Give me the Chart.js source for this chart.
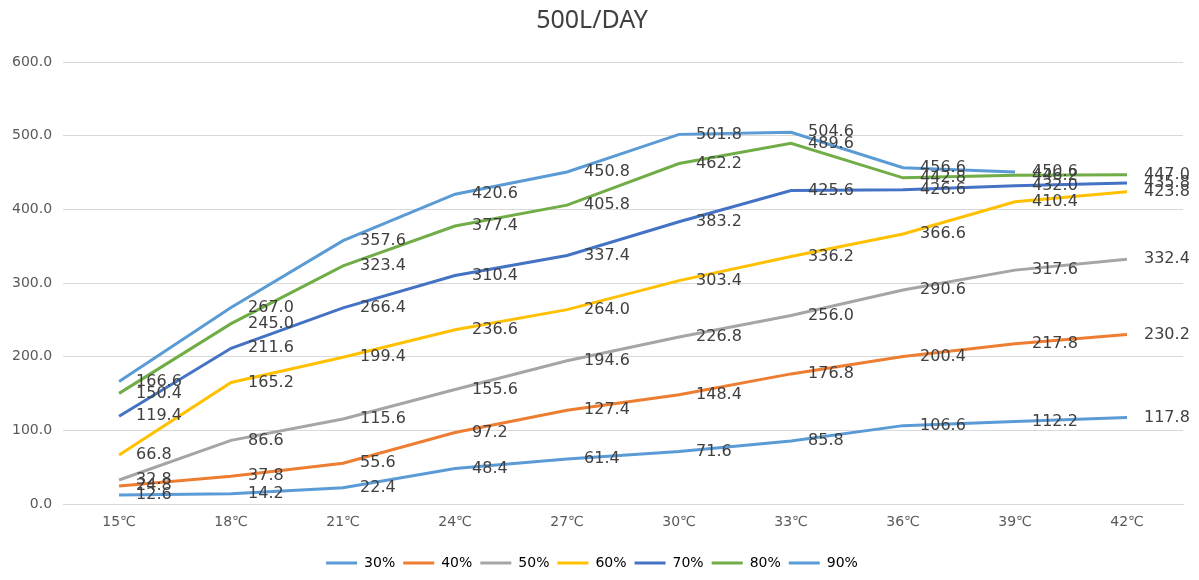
<!DOCTYPE html>
<html>
<head>
<meta charset="utf-8">
<script src="https://cdn.jsdelivr.net/npm/chart.js@4/dist/chart.umd.min.js"></script>
<style>
  html, body { margin: 0; padding: 0; background: #fff; }
  #wrap { width: 1199px; height: 580px; }
</style>
</head>
<body>
<div id="wrap"><canvas id="chart" width="1199" height="580"></canvas></div>
<script>
const categories = ['15℃', '18℃', '21℃', '24℃', '27℃', '30℃', '33℃', '36℃', '39℃', '42℃'];
const seriesNames = ['30%', '40%', '50%', '60%', '70%', '80%', '90%'];
const h30 = [12.6, 14.2, 22.4, 48.4, 61.4, 71.6, 85.8, 106.6, 112.2, 117.8];
const h40 = [24.8, 37.8, 55.6, 97.2, 127.4, 148.4, 176.8, 200.4, 217.8, 230.2];
const h50 = [32.8, 86.6, 115.6, 155.6, 194.6, 226.8, 256.0, 290.6, 317.6, 332.4];
const h60 = [66.8, 165.2, 199.4, 236.6, 264.0, 303.4, 336.2, 366.6, 410.4, 423.8];
const h70 = [119.4, 211.6, 266.4, 310.4, 337.4, 383.2, 425.6, 426.6, 432.0, 435.8];
const h80 = [150.4, 245.0, 323.4, 377.4, 405.8, 462.2, 489.6, 442.8, 446.2, 447.0];
const h90 = [166.6, 267.0, 357.6, 420.6, 450.8, 501.8, 504.6, 456.6, 450.6, null];
const yTicks = [0, 100, 200, 300, 400, 500, 600];

const colors = ['#5b9bd5', '#ed7d31', '#a5a5a5', '#ffc000', '#4472c4', '#70ad47', '#5b9bd5'];
const values = [h30, h40, h50, h60, h70, h80, h90];

const FONT = '"DejaVu Sans", sans-serif';

// draws the number to the right of every point, like excel's "right" label
const pointLabels = {
    id: 'pointLabels',
    afterDatasetsDraw(chart) {
        const ctx = chart.ctx;
        ctx.save();
        ctx.font = '16px ' + FONT;
        ctx.fillStyle = '#404040';
        ctx.textAlign = 'left';
        ctx.textBaseline = 'middle';
        chart.data.datasets.forEach((ds, i) => {
            const meta = chart.getDatasetMeta(i);
            meta.data.forEach((pt, j) => {
                const v = ds.data[j];
                if (v === null || v === undefined) return;
                ctx.fillText(v.toFixed(1), pt.x + 17, pt.y);
            });
        });
        ctx.restore();
    }
};

const datasets = seriesNames.map((name, i) => ({
    label: name,
    data: values[i],
    borderColor: colors[i],
    backgroundColor: colors[i],
    borderWidth: 3,
    pointRadius: 0,
    pointHoverRadius: 0,
    tension: 0,
    spanGaps: false
}));

new Chart(document.getElementById('chart').getContext('2d'), {
    type: 'line',
    data: { labels: categories, datasets: datasets },
    plugins: [pointLabels],
    options: {
        responsive: false,
        animation: false,
        layout: { padding: { left: 1, right: 16, top: 3, bottom: 0 } },
        plugins: {
            title: {
                display: true,
                text: '500L/DAY',
                color: '#404040',
                font: { family: '"Noto Sans", sans-serif', size: 25, weight: 'normal' },
                padding: { top: 3, bottom: 26 }
            },
            legend: {
                position: 'bottom',
                labels: {
                    color: '#595959',
                    font: { family: FONT, size: 14 },
                    boxWidth: 31,
                    boxHeight: 3,
                    padding: 8,
                    generateLabels(chart) {
                        return chart.data.datasets.map((ds, i) => ({
                            text: ds.label,
                            fillStyle: ds.borderColor,
                            strokeStyle: ds.borderColor,
                            lineWidth: 0,
                            datasetIndex: i
                        }));
                    }
                }
            },
            tooltip: { enabled: false }
        },
        scales: {
            x: {
                offset: true,
                grid: { display: false, drawTicks: false },
                border: { color: '#d9d9d9' },
                ticks: {
                    color: '#595959',
                    font: { family: FONT, size: 14 },
                    padding: 10
                },
                afterFit(scale) {
                    scale.height += 7;
                }
            },
            y: {
                min: yTicks[0],
                max: yTicks[yTicks.length - 1],
                afterBuildTicks(axis) {
                    axis.ticks = yTicks.map(v => ({ value: v }));
                },
                grid: { color: '#d9d9d9', drawTicks: false },
                border: { display: false },
                ticks: {
                    color: '#595959',
                    font: { family: FONT, size: 14 },
                    padding: 11,
                    callback: v => v.toFixed(1)
                }
            }
        }
    }
});
</script>
</body>
</html>
